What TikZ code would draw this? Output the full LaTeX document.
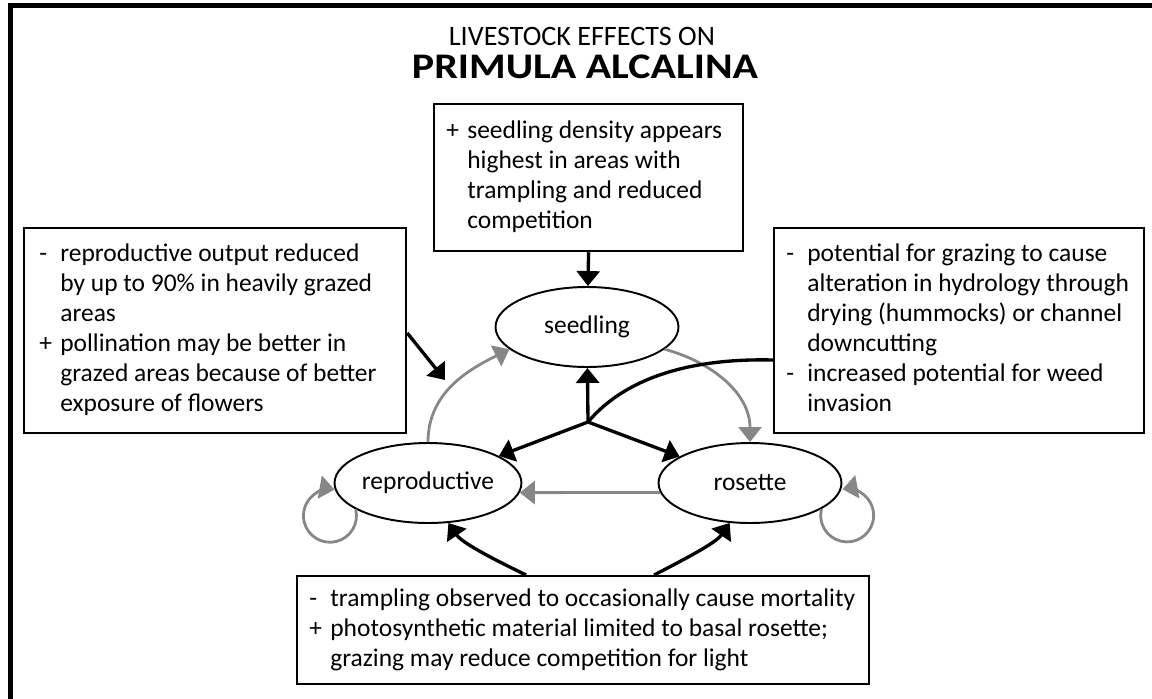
\documentclass[tikz,border=0pt]{standalone}
\usepackage{fontspec}
\setmainfont{Carlito}
\usepackage{graphicx}
\usetikzlibrary{arrows.meta,shapes.geometric,calc}
\definecolor{lg}{RGB}{135,135,135}
\newcommand\dsh{\strut\makebox[0.42cm][l]{-}}
\newcommand\pls{\strut\makebox[0.42cm][l]{+}}
\newcommand\ind{\strut\hspace*{0.42cm}}
\tikzset{
  box/.style={draw, line width=1.3pt, inner sep=0pt, anchor=north west},
  txt/.style={font=\fontsize{14.5}{17.07}\selectfont, align=left, inner sep=0pt, anchor=west},
  stage/.style={draw, ellipse, line width=1.1pt, fill=white, inner sep=0pt,
    minimum width=3.66cm, minimum height=1.6cm, font=\fontsize{14.5}{17.07}\selectfont},
  blk/.style={line width=1.9pt, -{Triangle[length=0.3cm,width=0.46cm]}},
  blkline/.style={line width=1.9pt},
  gry/.style={draw=lg, line width=1.6pt, -{Triangle[length=0.3cm,width=0.46cm]}, color=lg},
}
\begin{document}
\begin{tikzpicture}[x=0.02cm,y=0.02cm]
\useasboundingbox (0,0) rectangle (1152,698);
% frame
\draw[line width=2.8pt, line join=miter] (10.5,-10) -- (10.5,692.5) -- (1160,692.5);
% title
\node[font=\fontsize{16}{19}\selectfont, anchor=base, inner sep=0pt] (t1) at (582,653) {LIVESTOCK EFFECTS ON};
\node[font=\bfseries\fontsize{20.5}{24}\selectfont, anchor=base, inner sep=0pt] (t2) at (585,620) {\scalebox{1.165}[1]{PRIMULA ALCALINA}};
% boxes
\node[box, minimum width=6.18cm, minimum height=2.94cm] (T) at (433,595) {};
\node[txt] (Tt) at ($(T.west)+(13,0)$) {\pls seedling density appears\\ \ind highest in areas with\\ \ind trampling and reduced\\ \ind competition};
\node[box, minimum width=7.64cm, minimum height=4.1cm] (L) at (23,471) {};
\node[txt] (Lt) at ($(L.west)+(16,0)$) {\dsh reproductive output reduced\\ \ind by up to 90\% in heavily grazed\\ \ind areas\\ \pls pollination may be better in\\ \ind grazed areas because of better\\ \ind exposure of flowers};
\node[box, minimum width=7.4cm, minimum height=4.1cm] (Rb) at (773,471) {};
\node[txt] (Rt) at ($(Rb.west)+(13,0)$) {\dsh potential for grazing to cause\\ \ind alteration in hydrology through\\ \ind drying (hummocks) or channel\\ \ind downcutting\\ \dsh increased potential for weed\\ \ind invasion};
\node[box, minimum width=11.44cm, minimum height=2.16cm] (B) at (296,123) {};
\node[txt] (Bt) at ($(B.west)+(13,0)$) {\dsh trampling observed to occasionally cause mortality\\ \pls photosynthetic material limited to basal rosette;\\ \ind grazing may reduce competition for light};
% stages
\node[stage] (S) at (587,371) {seedling};
\node[stage] (R) at (428,215) {reproductive};
\node[stage] (O) at (750,215) {rosette};
\coordinate (J) at (588,276);
\coordinate (la) at (445,318);
% gray transitions
\draw[gry] (R.north) .. controls +(0,50) and +(-40,-20) .. (S.196);
\draw[gry] (S.-16) .. controls +(45,-12) and +(0,50) .. (O.north);
\draw[gry] (O.186.5) -- (R.-6.5);
\draw[gry] (R.200) arc[start angle=14, end angle=-280, radius=0.53cm];
\draw[gry] (O.-20) arc[start angle=166, end angle=460, radius=0.53cm];
% black effects
\draw[blk] (T.south) -- (S);
\draw[blk] (J) -- (S);
\draw[blk] (J) -- (R);
\draw[blk] (J) -- (O);
\draw[blk] ($(L.north east)+(0,-106)$) -- (la);
\draw[blkline] ($(Rb.north west)+(0,-133)$) .. controls (690,340) and (625,320) .. (J);
\draw[blk] ($(B.north)+(-57,0)$) .. controls (495,138) and (462,155) .. (R.-63);
\draw[blk] ($(B.north)+(71,0)$) .. controls (683,138) and (716,155) .. (O.-117);
\end{tikzpicture}
\end{document}
